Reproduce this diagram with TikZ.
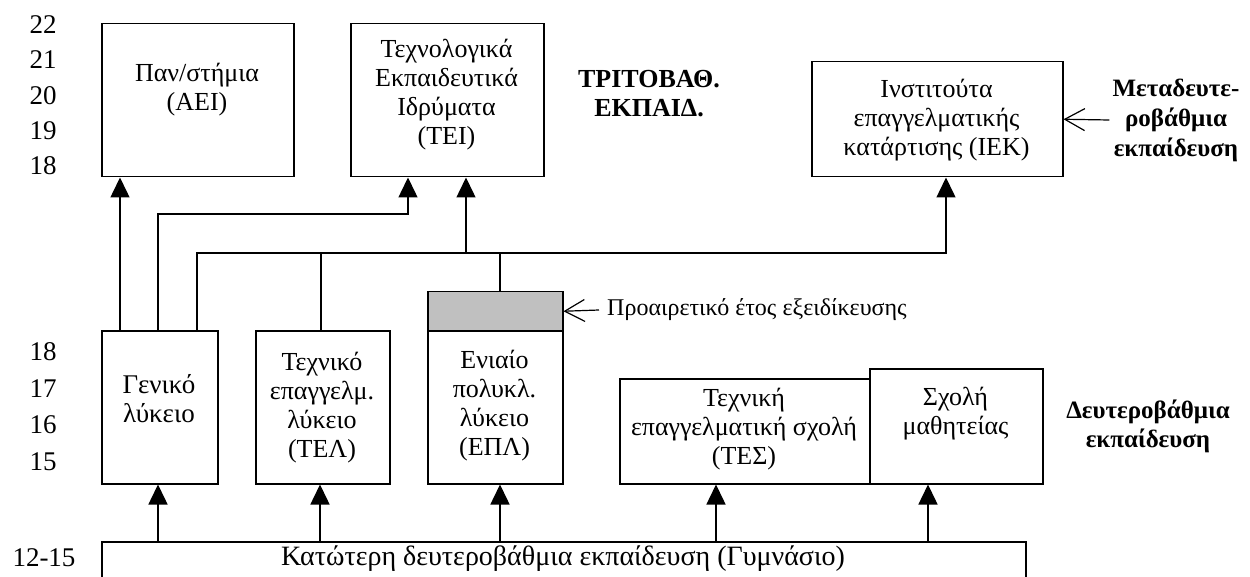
\documentclass[tikz,border=0pt]{standalone}
\usepackage{fontspec}
\setmainfont{Liberation Serif}
\usetikzlibrary{arrows.meta}
\definecolor{boxgray}{HTML}{C0C0C0}
\begin{document}
\begin{tikzpicture}[x=1pt,y=-1pt,
  box/.style={draw, line width=1.5pt, inner sep=0pt, anchor=north west},
  txt/.style={align=center, font=\fontsize{26}{29}\selectfont, inner sep=0pt},
  btxt/.style={align=center, font=\fontsize{26}{29}\selectfont\bfseries, inner sep=0pt},
  yr/.style={font=\fontsize{27}{29}\selectfont, inner sep=0pt},
  conn/.style={line width=1.5pt},
  arr/.style={line width=1.5pt, -{Triangle[length=20pt,width=19pt]}},
  oarr/.style={line width=1.2pt, -{Straight Barb[length=20pt,width=22pt]}}
]
\useasboundingbox (0,0) rectangle (1250,577);
\clip (0,0) rectangle (1250,577);

% year labels
\node[yr] (y22) at (43,25) {22};
\node[yr] (y21) at (43,60) {21};
\node[yr] (y20) at (43,96) {20};
\node[yr] (y19) at (43,131) {19};
\node[yr] (y18a) at (43,166) {18};
\node[yr] (y18b) at (43,352) {18};
\node[yr] (y17) at (43,389) {17};
\node[yr] (y16) at (43,425) {16};
\node[yr] (y15) at (43,462) {15};
\node[yr] (y1215) at (44,558) {12-15};

% boxes
\node[box, minimum width=192pt, minimum height=153pt] (aei) at (101,23) {};
\node[box, minimum width=193pt, minimum height=153pt] (tei) at (350,23) {};
\node[box, minimum width=251pt, minimum height=115pt] (iek) at (811,61) {};
\node[box, minimum width=116pt, minimum height=153pt] (gen) at (101,330) {};
\node[box, minimum width=134pt, minimum height=153pt] (tel) at (255,330) {};
\node[box, fill=boxgray, minimum width=135pt, minimum height=39pt] (gray) at (427,291) {};
\node[box, minimum width=135pt, minimum height=153pt] (epl) at (427,330) {};
\node[box, minimum width=250pt, minimum height=105pt] (tes) at (619,378) {};
\node[box, minimum width=173pt, minimum height=115pt] (sch) at (869,368) {};
\node[box, minimum width=924pt, minimum height=60pt] (gym) at (101,541) {};

% box texts
\node[txt] (aeit) at (197,90) {Παν/στήμια\\(ΑΕΙ)};
\node[txt] (teit) at (446.5,95) {Τεχνολογικά\\Εκπαιδευτικά\\Ιδρύματα\\(ΤΕΙ)};
\node[txt] (iekt) at (936.5,120) {Ινστιτούτα\\επαγγελματικής\\κατάρτισης (ΙΕΚ)};
\node[txt, font=\fontsize{27}{29}\selectfont] (gent) at (159,399) {Γενικό\\λύκειο};
\node[txt] (telt) at (322,408) {Τεχνικό\\επαγγελμ.\\λύκειο\\(ΤΕΛ)};
\node[txt] (eplt) at (494.5,406) {Ενιαίο\\πολυκλ.\\λύκειο\\(ΕΠΛ)};
\node[txt] (test) at (744,429) {Τεχνική\\επαγγελματική σχολή\\(ΤΕΣ)};
\node[txt] (scht) at (955.5,414) {Σχολή\\μαθητείας};
\node[txt, font=\fontsize{28}{30}\selectfont] (gymt) at (563,559) {Κατώτερη δευτεροβάθμια εκπαίδευση (Γυμνάσιο)};

% side labels
\node[btxt] (trit) at (649,94) {ΤΡΙΤΟΒΑΘ.\\ΕΚΠΑΙΔ.};
\node[btxt, font=\fontsize{25}{30}\selectfont\bfseries] (metad) at (1176,120) {Μεταδευτε-\\ροβάθμια\\εκπαίδευση};
\node[btxt, font=\fontsize{25}{29}\selectfont\bfseries] (deut) at (1148,426) {Δευτεροβάθμια\\εκπαίδευση};
\node[txt, font=\fontsize{24}{27}\selectfont, anchor=west] (prtxt) at (607,310) {Προαιρετικό έτος εξειδίκευσης};

% upper connectors
\path (tei.south west) ++(58,0) coordinate (t1) ++(58,0) coordinate (t2);
\path (iek.south west) ++(135,0) coordinate (i1);
\draw[arr] (gen.north west) ++(19,0) coordinate (g1) -- (g1 |- aei.south);
\draw[arr] (gen.north west) ++(57,0) coordinate (g2) -- ++(0,-116) -| (t1);
\draw[arr] (gen.north west) ++(96,0) coordinate (g3) -- ++(0,-77) coordinate (hl) -| (i1);
\draw[conn] (tel.north west) ++(66,0) coordinate (tl1) -- (tl1 |- hl);
\draw[conn] (gray.north west) ++(73,0) coordinate (gl1) -- (gl1 |- hl);
\draw[arr] (t2 |- hl) -- (t2);

% lower connectors
\draw[arr] (gym.north west) ++(57,0) coordinate (b1) -- (b1 |- gen.south);
\draw[arr] (gym.north west) ++(219,0) coordinate (b2) -- (b2 |- tel.south);
\draw[arr] (gym.north west) ++(399,0) coordinate (b3) -- (b3 |- epl.south);
\draw[arr] (gym.north west) ++(615,0) coordinate (b4) -- (b4 |- tes.south);
\draw[arr] (gym.north west) ++(827,0) coordinate (b5) -- (b5 |- sch.south);

% open arrows
\draw[oarr] ([xshift=-8pt]prtxt.west) -- (gray.east);
\draw[oarr] ([xshift=-3pt]metad.west) -- (iek.east);
\end{tikzpicture}
\end{document}
